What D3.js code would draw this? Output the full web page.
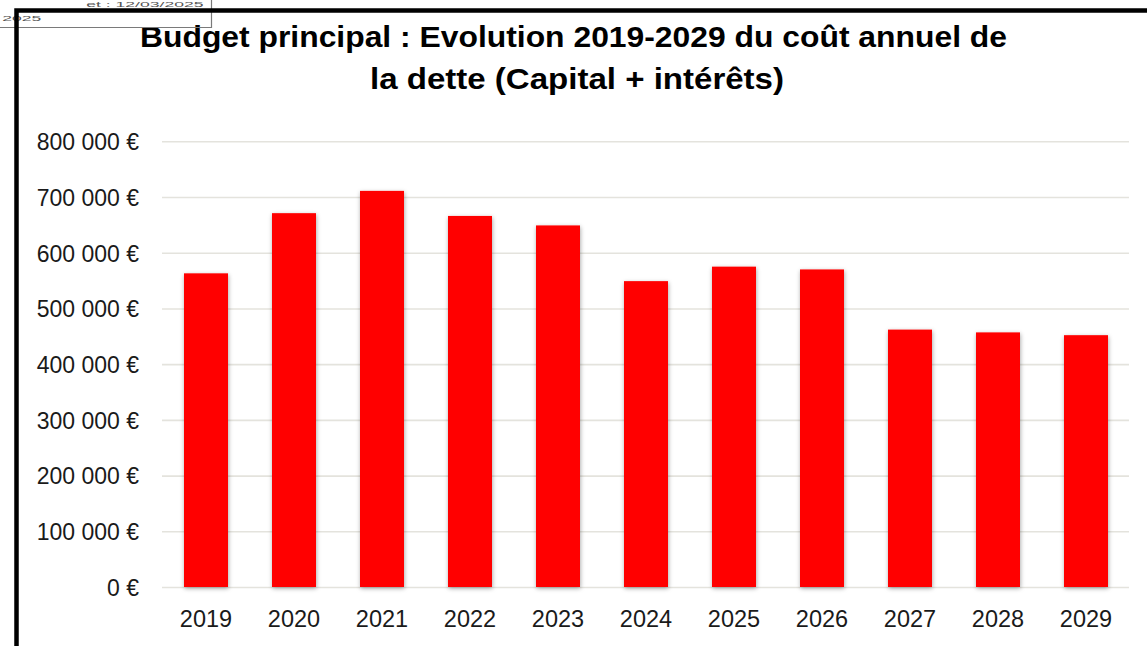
<!DOCTYPE html>
<html lang="fr">
<head>
<meta charset="utf-8">
<script src="https://cdn.jsdelivr.net/npm/d3@7"></script>
<style>
  html, body { margin: 0; padding: 0; background: #ffffff; }
  svg { display: block; }
</style>
</head>
<body>
<svg id="chart" width="1147" height="646"></svg>
<script>
// Annual debt cost (principal + interest), main budget, in euros
const years = ["2019", "2020", "2021", "2022", "2023", "2024", "2025", "2026", "2027", "2028", "2029"];
const debtCost = [563000, 671000, 711000, 666000, 649000, 549000, 575000, 570000, 462000, 457000, 452000];
const yTicks = [0, 100000, 200000, 300000, 400000, 500000, 600000, 700000, 800000];
const titleLines = ["Budget principal : Evolution 2019-2029 du coût annuel de", "la dette (Capital + intérêts)"];
const stampLines = ["et : 12/03/2025", "2025"];

const svg = d3.select("#chart");

// soft shadow under the bars
const defs = svg.append("defs");
const shadow = defs.append("filter").attr("id", "barShadow")
  .attr("x", "-30%").attr("y", "-10%").attr("width", "160%").attr("height", "130%");
shadow.append("feDropShadow")
  .attr("dx", 0.5).attr("dy", 1.5).attr("stdDeviation", 2)
  .attr("flood-color", "#000").attr("flood-opacity", 0.35);

// scales
const x = d3.scaleBand().domain(years).range([162, 1130]).paddingInner(0.5).paddingOuter(0.25);
const y = d3.scaleLinear().domain([0, 800000]).range([587, 141.3]);

const fmt = v => d3.format(",")(v).replace(/,/g, " ") + " €";

// gridlines + y labels via axis
const yAxis = d3.axisLeft(y).tickValues(yTicks).tickSize(-(1129 - 162)).tickPadding(23).tickFormat(fmt);
const gy = svg.append("g").attr("transform", "translate(162,0)").call(yAxis);
gy.select(".domain").remove();
gy.selectAll(".tick line").attr("stroke", "#e4e3dd").attr("stroke-width", 1.6);
gy.selectAll(".tick text")
  .attr("fill", "#1a1a1a")
  .style("font-family", "'Century Gothic', 'Liberation Sans', Arial, sans-serif")
  .style("font-size", "23px")
  .attr("dy", "0.36em");

// bars
svg.append("g").selectAll("rect")
  .data(years.map((yr, i) => ({ year: yr, value: debtCost[i] })))
  .join("rect")
  .attr("x", d => x(d.year))
  .attr("width", x.bandwidth())
  .attr("y", d => y(d.value))
  .attr("height", d => y(0) - y(d.value))
  .attr("fill", "#ff0000")
  .attr("filter", "url(#barShadow)");

// x labels via axis
const xAxis = d3.axisBottom(x).tickSize(0).tickPadding(0);
const gx = svg.append("g").attr("transform", "translate(0,587)").call(xAxis);
gx.select(".domain").remove();
gx.selectAll(".tick text")
  .attr("fill", "#1a1a1a")
  .attr("y", 40)
  .attr("dy", 0)
  .style("font-family", "'Century Gothic', 'Liberation Sans', Arial, sans-serif")
  .style("font-size", "23.5px");

// title
const title = svg.append("g")
  .style("font-family", "'Century Gothic', 'Liberation Sans', Arial, sans-serif")
  .style("font-weight", "bold")
  .style("font-size", "30px")
  .attr("fill", "#000");
title.append("text").attr("x", 140).attr("y", 47)
  .attr("textLength", 867).attr("lengthAdjust", "spacingAndGlyphs")
  .text(titleLines[0]);
title.append("text").attr("x", 370).attr("y", 89)
  .attr("textLength", 414).attr("lengthAdjust", "spacingAndGlyphs")
  .text(titleLines[1]);

// receipt stamp in the top-left corner
const stamp = svg.append("g");
stamp.append("path")
  .attr("d", "M0,27.5H211.5V0")
  .attr("fill", "none").attr("stroke", "#7a7a7a").attr("stroke-width", 1.2);
const stampText = stamp.append("g")
  .attr("transform", "scale(2.2,1)")
  .style("font-family", "'Liberation Sans', Arial, sans-serif")
  .style("font-size", "8px")
  .attr("fill", "#555");
stampText.append("text").attr("x", 92.5).attr("y", 7).attr("text-anchor", "end").text(stampLines[0]);
stampText.append("text").attr("x", 1).attr("y", 21).text(stampLines[1]);

// page frame
svg.append("path")
  .attr("d", "M16.5,646V10.5H1147")
  .attr("fill", "none").attr("stroke", "#000").attr("stroke-width", 4.5);
</script>
</body>
</html>
